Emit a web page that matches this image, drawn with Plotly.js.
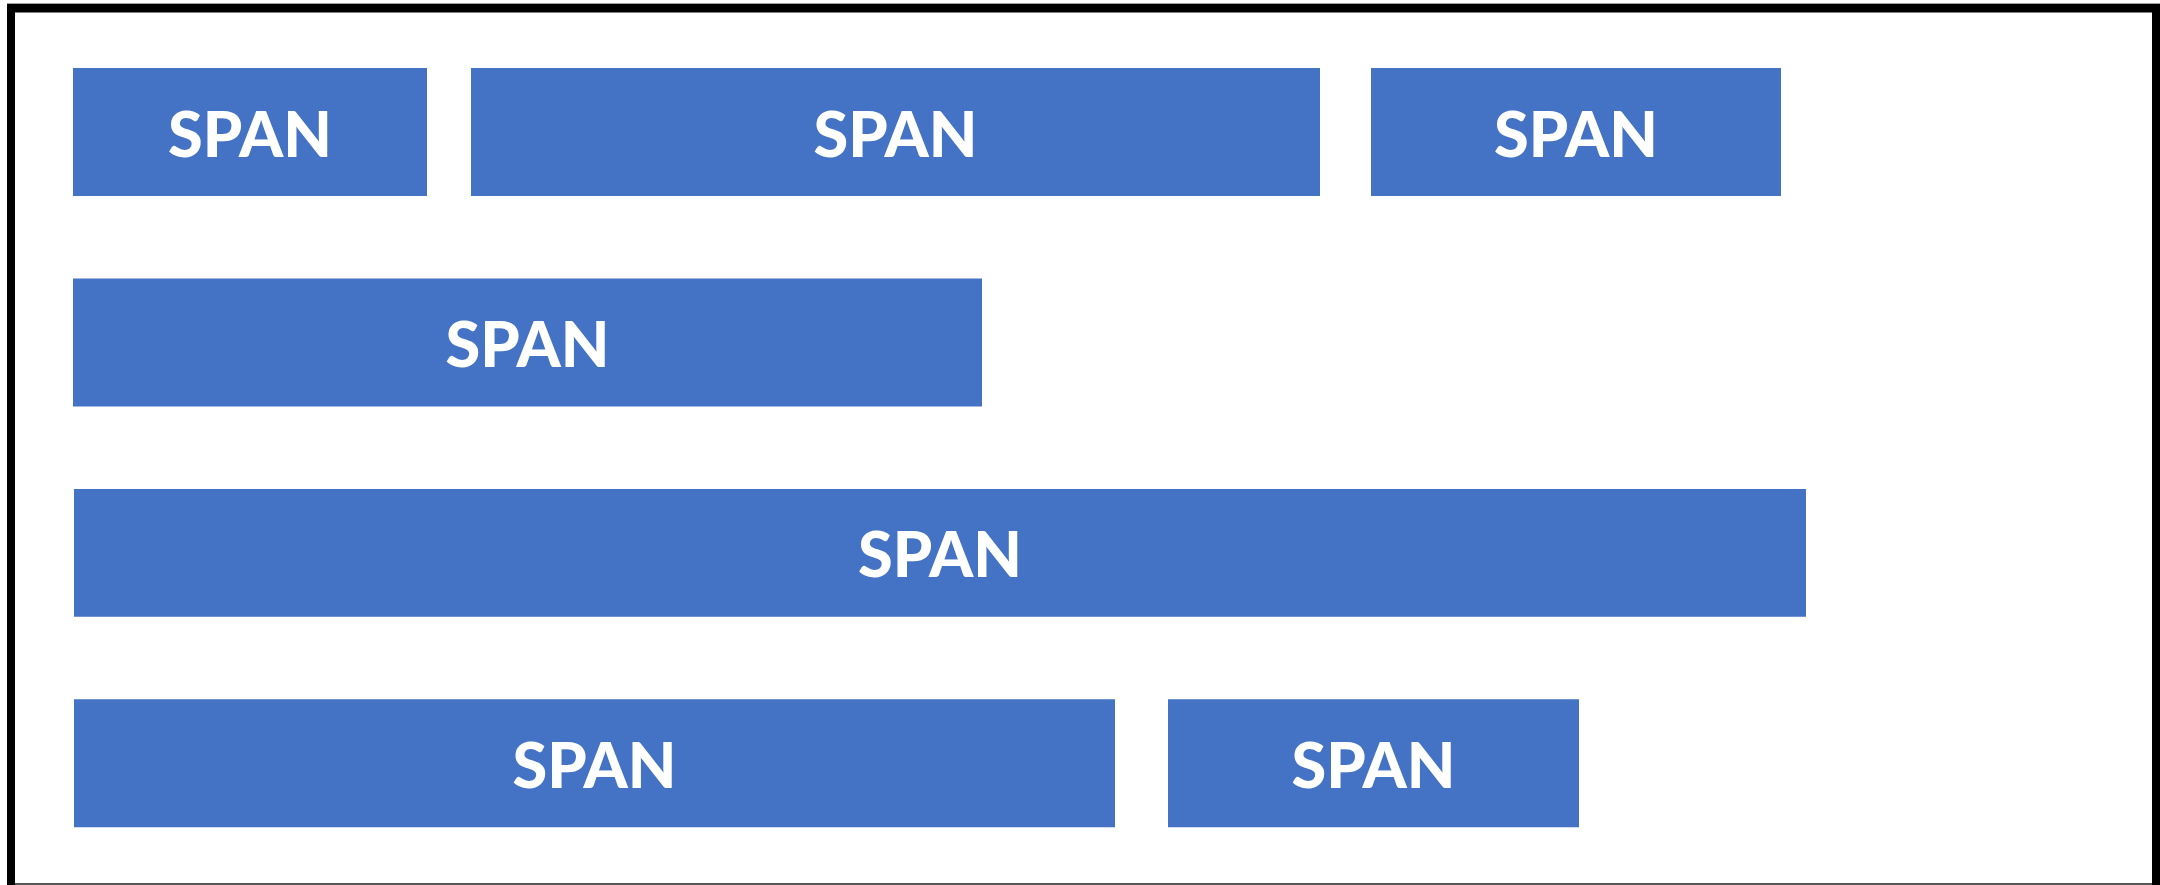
<!DOCTYPE html>
<html>
<head>
<meta charset="utf-8">
<script src="https://cdn.plot.ly/plotly-3.0.1.min.js"></script>
<style>
  html, body { margin: 0; padding: 0; background: #ffffff; }
  #chart { width: 2160px; height: 885px; }
</style>
</head>
<body>
<div id="chart"></div>
<script>
// ---- data ----
const rows   = [1, 1, 1, 2, 3, 4, 4];                 // row index of each span (top to bottom)
const starts = [0, 398, 1298, 0, 1, 1, 1095];        // span start (units)
const ends   = [354, 1247, 1708, 909, 1733, 1042, 1506]; // span end (units)
const labels = ['SPAN', 'SPAN', 'SPAN', 'SPAN', 'SPAN', 'SPAN', 'SPAN'];

const lengths = ends.map((e, i) => e - starts[i]);

const W = 2160, H = 885;

const trace = {
  type: 'bar',
  orientation: 'h',
  y: rows,
  x: lengths,
  base: starts,
  width: 0.608,
  text: labels,
  textposition: 'inside',
  insidetextanchor: 'middle',
  textangle: 0,
  constraintext: 'none',
  cliponaxis: false,
  textfont: { family: 'Lato, "Open Sans", sans-serif', size: 63, color: '#ffffff', weight: 900 },
  marker: { color: '#4472C4', line: { width: 0 } },
  hoverinfo: 'skip',
  showlegend: false
};

function px(x) { return x / W; }
function py(y) { return 1 - y / H; }

const shapes = [
  // thin light outline at the very top
  { type: 'rect', xref: 'paper', yref: 'paper', x0: px(7), x1: px(2160), y0: py(4), y1: py(3), fillcolor: '#a0a0a0', line: { width: 0 }, layer: 'above' },
  // thick black frame: top, left, right
  { type: 'rect', xref: 'paper', yref: 'paper', x0: px(7), x1: px(2160), y0: py(12.5), y1: py(4), fillcolor: '#000000', line: { width: 0 }, layer: 'above' },
  { type: 'rect', xref: 'paper', yref: 'paper', x0: px(7), x1: px(15), y0: py(885), y1: py(4), fillcolor: '#000000', line: { width: 0 }, layer: 'above' },
  { type: 'rect', xref: 'paper', yref: 'paper', x0: px(2152), x1: px(2160), y0: py(885), y1: py(4), fillcolor: '#000000', line: { width: 0 }, layer: 'above' },
  // thin grey bottom edge
  { type: 'rect', xref: 'paper', yref: 'paper', x0: px(15), x1: px(2152), y0: py(885), y1: py(883), fillcolor: '#555555', line: { width: 0 }, layer: 'above' }
];

const layout = {
  width: W,
  height: H,
  margin: { l: 0, r: 0, t: 0, b: 0, pad: 0 },
  paper_bgcolor: '#ffffff',
  plot_bgcolor: '#ffffff',
  barmode: 'overlay',
  xaxis: { range: [-73, 2087], visible: false, fixedrange: true },
  yaxis: { range: [4.5783, 0.3727], visible: false, fixedrange: true },
  shapes: shapes,
  hovermode: false,
  showlegend: false
};

Plotly.newPlot('chart', [trace], layout, { displayModeBar: false, staticPlot: true });
</script>
</body>
</html>
